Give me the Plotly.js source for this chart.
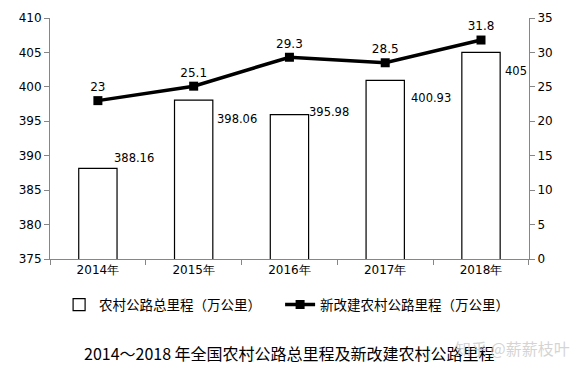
<!DOCTYPE html>
<html>
<head>
<meta charset="utf-8">
<script src="https://cdn.plot.ly/plotly-3.0.1.min.js"></script>
<style>html,body{margin:0;padding:0;background:#fff;}#chart{width:587px;height:371px;}</style>
</head>
<body>
<div id="chart"></div>
<script>
const categories = ['2014年', '2015年', '2016年', '2017年', '2018年'];
const totalMileage = [388.16, 398.06, 395.98, 400.93, 405];
const newMileage = [23, 25.1, 29.3, 28.5, 31.8];
const totalLabels = ['388.16', '398.06', '395.98', '400.93', '405'];
const newLabels = ['23', '25.1', '29.3', '28.5', '31.8'];
const barName = '农村公路总里程（万公里）';
const lineName = '新改建农村公路里程（万公里）';
const titleText = '2014～2018 年全国农村公路总里程及新改建农村公路里程';
const watermark = '知乎 @薪薪枝叶';

// label offsets (styling only)
const barLabelShift = [[14, 10], [21, -19], [18, 3], [24, -18], [22, -19]];

const font = 'DejaVu Sans, Verdana, sans-serif';
const cjk = 'Noto Sans CJK SC, sans-serif';

const traces = [
  {
    type: 'bar', x: categories, y: totalMileage, name: barName,
    width: 0.4,
    marker: {color: '#ffffff', line: {color: '#000000', width: 1.2}},
    yaxis: 'y', hoverinfo: 'none'
  },
  {
    type: 'scatter', mode: 'lines+markers+text', x: categories, y: newMileage, name: lineName,
    text: newLabels, textposition: 'top center',
    textfont: {family: font, size: 12, color: '#000'},
    line: {color: '#000000', width: 3.5},
    marker: {symbol: 'square', size: 9, color: '#000000'},
    yaxis: 'y2', cliponaxis: false, hoverinfo: 'none'
  }
];

const annotations = totalMileage.map((v, i) => ({
  x: categories[i], y: v, xref: 'x', yref: 'y',
  text: totalLabels[i], showarrow: false,
  xanchor: 'left', yanchor: 'middle',
  xshift: barLabelShift[i][0], yshift: barLabelShift[i][1],
  font: {family: font, size: 11.5, color: '#000'}
}));
annotations.push({
  xref: 'paper', yref: 'paper', x: 0.5, y: -0.39, xanchor: 'center', yanchor: 'middle',
  text: titleText, showarrow: false,
  font: {family: cjk, size: 16, color: '#000'}
});
annotations.push({
  xref: 'paper', yref: 'paper', x: 1.09, y: -0.37, xanchor: 'right', yanchor: 'middle',
  text: watermark, showarrow: false,
  font: {family: cjk, size: 16, color: 'rgba(205,205,205,0.85)'}
});

const layout = {
  width: 587, height: 371,
  margin: {l: 50, r: 58, t: 18, b: 112},
  paper_bgcolor: '#fff', plot_bgcolor: '#fff',
  showlegend: true,
  legend: {
    orientation: 'h', x: 0.019, y: -0.19, xanchor: 'left', yanchor: 'middle',
    font: {family: cjk, size: 13.5, color: '#000'},
    traceorder: 'normal', itemwidth: 30,
    entrywidth: 176, entrywidthmode: 'pixels'
  },
  xaxis: {
    type: 'category', showline: true, linecolor: '#868686', linewidth: 1,
    ticks: 'outside', tickson: 'boundaries', ticklen: 5, tickcolor: '#868686',
    tickfont: {family: font, size: 12, color: '#000'},
    showgrid: false, zeroline: false, fixedrange: true
  },
  yaxis: {
    range: [375, 410], dtick: 5, tick0: 375,
    showline: true, linecolor: '#868686', linewidth: 1,
    ticks: 'outside', ticklen: 5, tickcolor: '#868686',
    tickfont: {family: font, size: 12, color: '#000'},
    showgrid: false, zeroline: false
  },
  yaxis2: {
    range: [0, 35], dtick: 5, overlaying: 'y', side: 'right',
    showline: true, linecolor: '#868686', linewidth: 1,
    ticks: 'outside', ticklen: 5, tickcolor: '#868686',
    tickfont: {family: font, size: 12, color: '#000'},
    showgrid: false, zeroline: false
  },
  annotations: annotations,
  bargap: 0.6
};

Plotly.newPlot('chart', traces, layout, {displayModeBar: false, staticPlot: true});
</script>
</body>
</html>
